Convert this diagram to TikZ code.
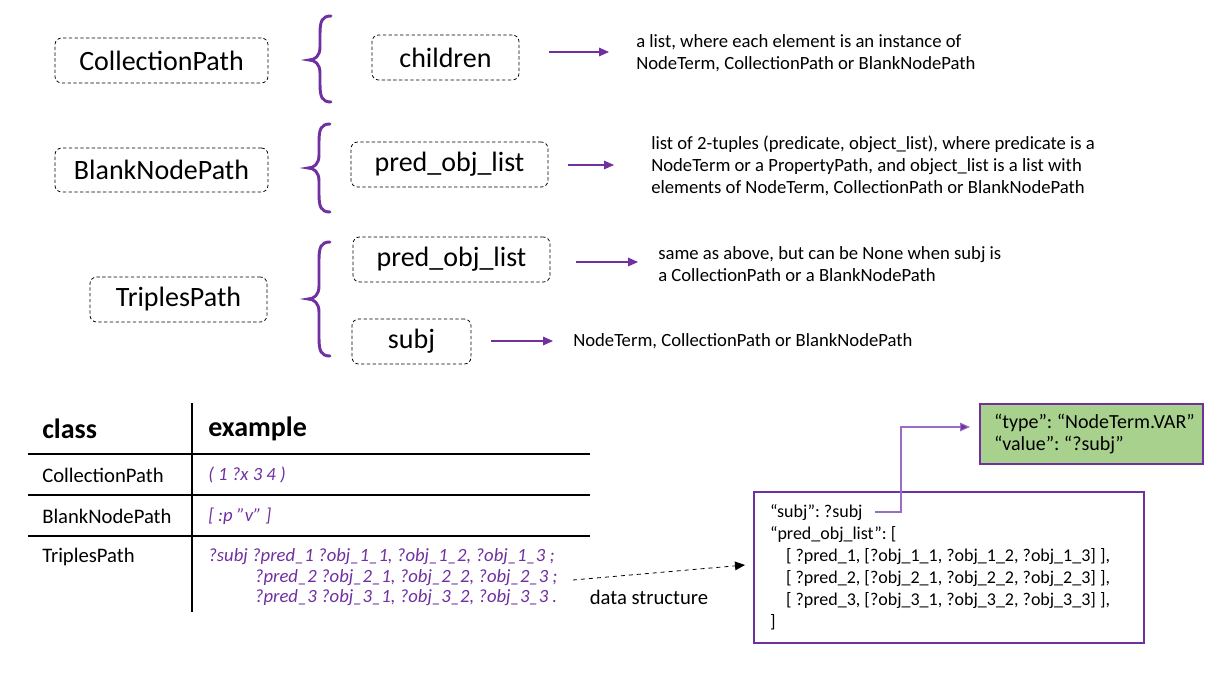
\documentclass[tikz,border=0pt]{standalone}
\usepackage{fontspec}
\setmainfont{Carlito}
\frenchspacing
\usetikzlibrary{arrows.meta}
\definecolor{purp}{HTML}{7030A0}
\definecolor{purpl}{HTML}{9A6CC4}
\definecolor{greenbox}{HTML}{A9D18E}
\newcommand\mybrace[4]{%
  \draw[bracestyle] ({#1+22},#2) .. controls ({#1+13},#2) and ({#1+11},{#2+5}) .. ({#1+11},{#2+18})
    -- ({#1+11},{#3-13}) .. controls ({#1+11},{#3-4}) and ({#1+6},#3) .. (#1,#3)
    .. controls ({#1+6},#3) and ({#1+11},{#3+4}) .. ({#1+11},{#3+13})
    -- ({#1+11},{#4-18}) .. controls ({#1+11},{#4-5}) and ({#1+13},#4) .. ({#1+22},#4);}
\begin{document}
\begin{tikzpicture}[x=0.75pt,y=-0.75pt,
  dbox/.style 2 args={draw, dash pattern=on 2.5pt off 1.8pt, line width=0.6pt, rounded corners=5pt,
     minimum width=#1*0.75pt, minimum height=#2*0.75pt, inner sep=0pt, font=\fontsize{21}{24}\selectfont},
  bracestyle/.style={draw=purp, line width=2.2pt, line cap=round},
  parrow/.style={draw=purp, line width=0.8pt, -{Triangle[length=7.5pt,width=6.5pt]}},
  desc/.style={anchor=west, align=left, inner sep=0pt, font=\fontsize{14}{16.5}\selectfont},
  tbl/.style={anchor=west, inner sep=0pt, font=\fontsize{15.5}{18}\selectfont},
  tblhead/.style={anchor=west, inner sep=0pt, font=\fontsize{21}{24}\selectfont\bfseries},
  ex/.style={anchor=west, inner sep=0pt, text=purp, font=\fontsize{14}{15.4}\selectfont\itshape},
  tline/.style={line width=1.5pt},
  code/.style={font=\fontsize{13.5}{16.5}\selectfont, align=flush left}
]
\useasboundingbox (0,0) rectangle (1228,675);

% top: structure of classes
\node[dbox={213}{45}] (cp) at (161.5,60.5) {CollectionPath};
\node[dbox={147}{45}] (ch) at (445.5,57.5) {children};
\node[dbox={213}{44}] (bn) at (161.5,170) {BlankNodePath};
\node[dbox={197}{45}] (pol1) at (449.5,164.5) {pred\_obj\_list};
\node[dbox={177}{45}] (tp) at (178.5,299.5) {TriplesPath};
\node[dbox={197}{45}] (pol2) at (451.5,259.5) {pred\_obj\_list};
\node[dbox={119}{45}] (sj) at (411.5,341.5) {subj};

\mybrace{309}{16}{60}{102}
\mybrace{308}{124}{168}{212}
\mybrace{308}{242}{299}{356}

\node[desc] (d1) at (636,53.5) {a list, where each element is an instance of\\NodeTerm, CollectionPath or BlankNodePath};
\node[desc] (d2) at (651,166) {list of 2-tuples (predicate, object\_list), where predicate is a\\NodeTerm or a PropertyPath, and object\_list is a list with\\elements of NodeTerm, CollectionPath or BlankNodePath};
\node[desc] (d3) at (658,264) {same as above, but can be None when subj is\\a CollectionPath or a BlankNodePath};
\node[desc] (d4) at (573,341) {NodeTerm, CollectionPath or BlankNodePath};

\coordinate (a1s) at (549,52);  \coordinate (a1e) at (609,52);
\coordinate (a2s) at (568,165); \coordinate (a2e) at (614,165);
\coordinate (a3s) at (576,262); \coordinate (a3e) at (638,262);
\coordinate (a4s) at (491,341); \coordinate (a4e) at (553,341);
\draw[parrow] (a1s) -- (a1e);
\draw[parrow] (a2s) -- (a2e);
\draw[parrow] (a3s) -- (a3e);
\draw[parrow] (a4s) -- (a4e);

% table
\draw[tline] (192,403) -- (192,612);
\draw[tline] (28,454) -- (590,454);
\draw[tline] (28,495) -- (590,495);
\draw[tline] (28,536) -- (590,536);
\node[tblhead] (hc) at (42,429) {class};
\node[tblhead] (he) at (208,429) {example};
\node[tbl] (r1) at (42,475) {CollectionPath};
\node[tbl] (r2) at (42,516) {BlankNodePath};
\node[tbl] (r3) at (42,557) {TriplesPath};
\node[ex] (e1) at (208,475) {( 1 ?x 3 4 )};
\node[ex] (e2) at (208,516) {[ :p "v" ]};
\node[ex, align=left] (e3) at (208,577.5) {?subj ?pred\_1 ?obj\_1\_1, ?obj\_1\_2, ?obj\_1\_3 ;\\
\hspace*{35pt}?pred\_2 ?obj\_2\_1, ?obj\_2\_2, ?obj\_2\_3 ;\\
\hspace*{35pt}?pred\_3 ?obj\_3\_1, ?obj\_3\_2, ?obj\_3\_3 .};

% data structure
\node[draw=purp, line width=1.5pt, anchor=north west, minimum width=390*0.75pt, minimum height=151*0.75pt,
      text width=268.5pt, inner xsep=12pt, code] (db) at (753,491)
 {“subj”: ?subj\\
  “pred\_obj\_list”: [\\
  \hspace*{12pt}[ ?pred\_1, [?obj\_1\_1, ?obj\_1\_2, ?obj\_1\_3] ],\\
  \hspace*{12pt}[ ?pred\_2, [?obj\_2\_1, ?obj\_2\_2, ?obj\_2\_3] ],\\
  \hspace*{12pt}[ ?pred\_3, [?obj\_3\_1, ?obj\_3\_2, ?obj\_3\_3] ],\\
  ]};
\node[draw=purp, fill=greenbox, line width=1.5pt, anchor=north west, minimum width=223*0.75pt, minimum height=60*0.75pt,
      text width=167.25pt, inner xsep=0pt, code, font=\fontsize{15}{16}\selectfont] (gb) at (979,403)
 {\hspace*{10.5pt}“type”: “NodeTerm.VAR”\\\hspace*{10.5pt}“value”: “?subj”};

\coordinate (ds) at (573,580);
\coordinate (de) at (745,565);
\draw[dashed, line width=0.6pt, -{Triangle[length=7.5pt,width=6.5pt]}] (ds) -- (de);
\node[tbl, anchor=center] (dl) at (649,597) {data structure};

\coordinate (cs) at (875,512);
\coordinate (cu) at (901,427);
\draw[draw=purpl, line width=0.8pt, shorten >=6.75pt, -{Triangle[length=7.5pt,width=6.5pt,fill=purp]}] (cs) -| (cu) -- (gb.west |- cu);
\end{tikzpicture}
\end{document}
